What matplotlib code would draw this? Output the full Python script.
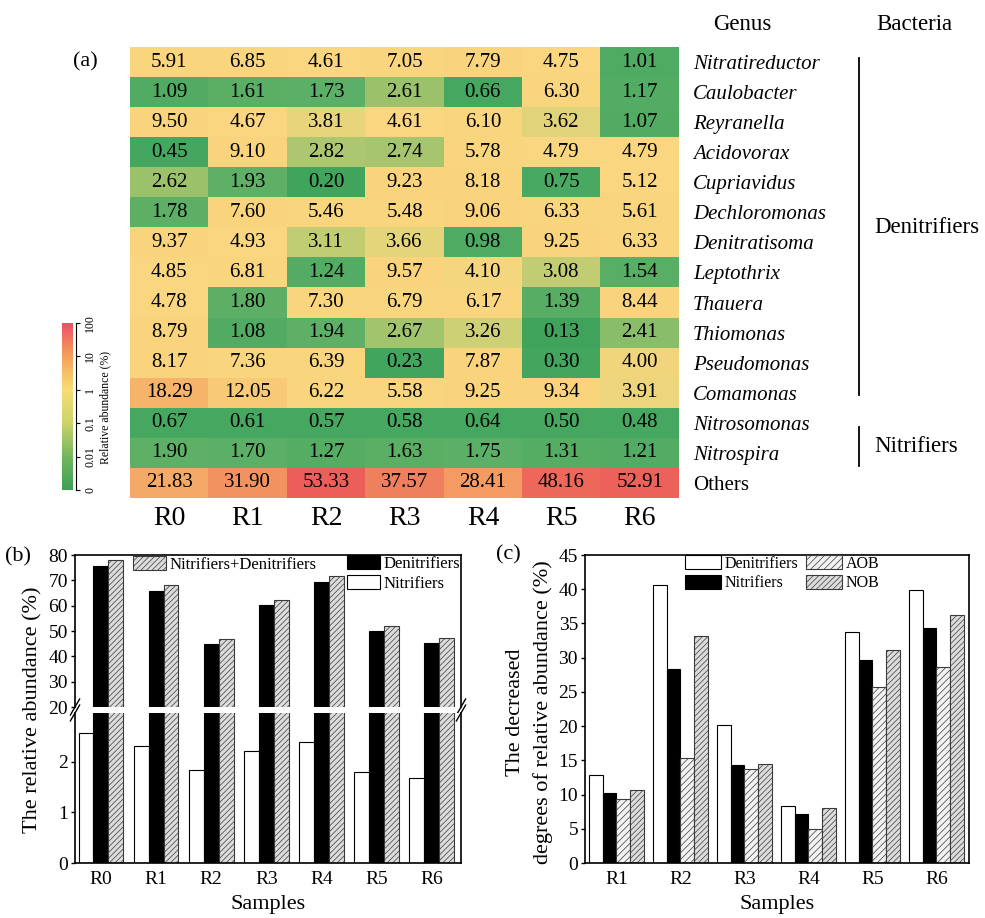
import numpy as np
import matplotlib
matplotlib.use('Agg')
import matplotlib.pyplot as plt
from matplotlib.colors import LinearSegmentedColormap, LogNorm

plt.rcParams['font.family'] = ['Liberation Serif', 'DejaVu Serif']
plt.rcParams['hatch.linewidth'] = 0.5

# ---------------- data ----------------
samples = ['R0', 'R1', 'R2', 'R3', 'R4', 'R5', 'R6']
genera = ['Nitratireductor', 'Caulobacter', 'Reyranella', 'Acidovorax', 'Cupriavidus',
          'Dechloromonas', 'Denitratisoma', 'Leptothrix', 'Thauera', 'Thiomonas',
          'Pseudomonas', 'Comamonas', 'Nitrosomonas', 'Nitrospira', 'Others']
nitratireductor = [5.91, 6.85, 4.61, 7.05, 7.79, 4.75, 1.01]
caulobacter     = [1.09, 1.61, 1.73, 2.61, 0.66, 6.30, 1.17]
reyranella      = [9.50, 4.67, 3.81, 4.61, 6.10, 3.62, 1.07]
acidovorax      = [0.45, 9.10, 2.82, 2.74, 5.78, 4.79, 4.79]
cupriavidus     = [2.62, 1.93, 0.20, 9.23, 8.18, 0.75, 5.12]
dechloromonas   = [1.78, 7.60, 5.46, 5.48, 9.06, 6.33, 5.61]
denitratisoma   = [9.37, 4.93, 3.11, 3.66, 0.98, 9.25, 6.33]
leptothrix      = [4.85, 6.81, 1.24, 9.57, 4.10, 3.08, 1.54]
thauera         = [4.78, 1.80, 7.30, 6.79, 6.17, 1.39, 8.44]
thiomonas       = [8.79, 1.08, 1.94, 2.67, 3.26, 0.13, 2.41]
pseudomonas     = [8.17, 7.36, 6.39, 0.23, 7.87, 0.30, 4.00]
comamonas       = [18.29, 12.05, 6.22, 5.58, 9.25, 9.34, 3.91]
nitrosomonas    = [0.67, 0.61, 0.57, 0.58, 0.64, 0.50, 0.48]
nitrospira      = [1.90, 1.70, 1.27, 1.63, 1.75, 1.31, 1.21]
others          = [21.83, 31.90, 53.33, 37.57, 28.41, 48.16, 52.91]
abund = np.array([nitratireductor, caulobacter, reyranella, acidovorax, cupriavidus,
                  dechloromonas, denitratisoma, leptothrix, thauera, thiomonas,
                  pseudomonas, comamonas, nitrosomonas, nitrospira, others])
groups = [('Denitrifiers', 0, 11), ('Nitrifiers', 12, 13)]
cbar_ticklabels = ['0', '0.01', '0.1', '1', '10', '100']

# panel b
nitrifiers_b = [2.57, 2.31, 1.84, 2.21, 2.39, 1.81, 1.69]
denitrifiers_b = [75.60, 65.79, 44.83, 60.22, 69.20, 50.03, 45.40]
nit_den_b = [78.17, 68.10, 46.67, 62.43, 71.59, 51.84, 47.09]

# panel c
samples_c = ['R1', 'R2', 'R3', 'R4', 'R5', 'R6']
dec_den = [12.9, 40.6, 20.2, 8.4, 33.8, 39.9]
dec_nit = [10.3, 28.4, 14.3, 7.2, 29.7, 34.3]
dec_aob = [9.4, 15.3, 13.8, 5.0, 25.7, 28.6]
dec_nob = [10.6, 33.2, 14.5, 8.0, 31.1, 36.3]

# ---------------- figure ----------------
W, H = 985, 918
fig = plt.figure(figsize=(W / 100, H / 100), dpi=100)


def rect(x0, y0, x1, y1):
    return [x0 / W, 1 - y1 / H, (x1 - x0) / W, (y1 - y0) / H]


# ---- heatmap (a) ----
cell_cmap = LinearSegmentedColormap.from_list('cells', [
    (0.00, '#3fa35c'), (0.30, '#47a861'), (0.47, '#60b167'), (0.51, '#9cc36c'),
    (0.55, '#d5d277'), (0.585, '#f9d780'), (0.72, '#f9d47c'), (0.81, '#f6b66a'),
    (0.89, '#f39a62'), (0.94, '#ef7a5e'), (1.00, '#ec5558')])
axh = fig.add_axes(rect(130, 47, 679, 498))
axh.imshow(abund, cmap=cell_cmap, norm=LogNorm(vmin=0.1, vmax=60), aspect='auto',
           interpolation='nearest')
for i in range(abund.shape[0]):
    for j in range(abund.shape[1]):
        axh.text(j, i, f'{abund[i, j]:.2f}', ha='center', va='center', fontsize=15, color='black')
axh.set_xlim(-0.5, 6.5)
axh.set_ylim(14.5, -0.5)
for s in axh.spines.values():
    s.set_visible(False)
axh.set_xticks(range(len(samples)), samples)
axh.tick_params(axis='x', length=0, labelsize=20, pad=6)
axh.yaxis.tick_right()
axh.set_yticks(range(len(genera)), genera)
axh.tick_params(axis='y', length=0, labelsize=15, pad=10)
for lab in axh.get_yticklabels():
    if lab.get_text() != 'Others':
        lab.set_fontstyle('italic')

ytr = axh.get_yaxis_transform()
axh.text(1.115, -1.25, 'Genus', transform=ytr, ha='center', va='center', fontsize=16.5)
axh.text(1.428, -1.25, 'Bacteria', transform=ytr, ha='center', va='center', fontsize=16.5)
axh.text(-0.082, 0.0, '(a)', transform=ytr, ha='center', va='center', fontsize=16)
offsets = {'Denitrifiers': (-0.15, 0.06), 'Nitrifiers': (0.15, 0.42)}
for name, r0, r1 in groups:
    o0, o1 = offsets[name]
    axh.plot([1.328, 1.328], [r0 + o0, r1 + o1], transform=ytr, color='black', lw=1.3,
             clip_on=False)
    axh.text(1.356, (r0 + r1) / 2 + (0.0 if name == 'Denitrifiers' else 0.3), name,
             transform=ytr, ha='left', va='center', fontsize=16.5)

# ---- colorbar ----
cbar_cmap = LinearSegmentedColormap.from_list('cbar', [
    (0.0, '#3e9f56'), (0.2, '#72b75e'), (0.4, '#cdd36a'), (0.6, '#f8dd76'),
    (0.8, '#f5a25a'), (1.0, '#ee5066')])
axc = fig.add_axes(rect(62, 323, 73, 490))
grad = np.linspace(0, 1, 256).reshape(-1, 1)
axc.imshow(grad, cmap=cbar_cmap, aspect='auto', origin='lower',
           extent=[0, 1, 0, len(cbar_ticklabels) - 1])
axc.set_xlim(0, 1)
axc.set_ylim(0, len(cbar_ticklabels) - 1)
for k in ['left', 'top', 'bottom']:
    axc.spines[k].set_visible(False)
axc.spines['right'].set_position(('outward', 2))
axc.spines['right'].set_linewidth(0.8)
axc.set_xticks([])
axc.yaxis.tick_right()
axc.set_yticks(range(len(cbar_ticklabels)))
axc.set_yticklabels(cbar_ticklabels, rotation=90, va='center', ha='left')
axc.tick_params(axis='y', direction='out', length=3, width=0.8, labelsize=8.5, pad=3)
fig.text(105 / W, 1 - 408 / H, 'Relative abundance (%)', rotation=90, ha='center',
         va='center', fontsize=8.5)

# ---- panel (b) ----
xb = np.arange(len(samples))
wb = 0.27
hatch_kw = dict(facecolor='#dcdcdc', edgecolor='#3a3a3a', hatch='//////', linewidth=0.8)
axbu = fig.add_axes(rect(75, 555, 461, 707))
axbl = fig.add_axes(rect(75, 713, 461, 863))
handles = {}
for ax in (axbu, axbl):
    h1 = ax.bar(xb - wb, nitrifiers_b, wb, facecolor='white', edgecolor='black', linewidth=0.8)
    h2 = ax.bar(xb, denitrifiers_b, wb, facecolor='black', edgecolor='black', linewidth=0.8)
    h3 = ax.bar(xb + wb, nit_den_b, wb, **hatch_kw)
    handles = {'Nitrifiers': h1, 'Denitrifiers': h2, 'Nitrifiers+Denitrifiers': h3}
    ax.set_xlim(-0.47, 6.53)
    for s in ax.spines.values():
        s.set_linewidth(1.2)
    ax.tick_params(axis='y', direction='out', length=3, width=1, labelsize=14, pad=2)
axbu.set_ylim(20, 80)
axbu.set_yticks(range(20, 81, 10))
axbu.spines['bottom'].set_visible(False)
axbu.set_xticks([])
axbl.set_ylim(0, 2.97)
axbl.set_yticks([0, 1, 2])
axbl.spines['top'].set_visible(False)
axbl.set_xticks(xb, samples)
axbl.tick_params(axis='x', length=0, labelsize=14, pad=6)
# break marks
d = 0.012
for ax, yb in ((axbu, 0.0), (axbl, 1.0)):
    k = 2.2
    for xs in (0.0, 1.0):
        ax.plot([xs - d, xs + d], [yb - k * d * 2, yb + k * d * 2], transform=ax.transAxes,
                color='black', lw=1.0, clip_on=False)

fig.legend([handles['Nitrifiers+Denitrifiers']], ['Nitrifiers+Denitrifiers'],
           loc='upper left', bbox_to_anchor=(133 / W, 1 - 556 / H), frameon=False,
           borderpad=0, borderaxespad=0, handlelength=2.0, handleheight=0.9,
           handletextpad=0.2, fontsize=12)
fig.legend([handles['Denitrifiers'], handles['Nitrifiers']], ['Denitrifiers', 'Nitrifiers'],
           loc='upper left', bbox_to_anchor=(347 / W, 1 - 555 / H), frameon=False,
           borderpad=0, borderaxespad=0, handlelength=2.0, handleheight=0.9,
           handletextpad=0.2, labelspacing=0.2, fontsize=12)
fig.text(33 / W, 1 - 710 / H, 'The relative abundance (%)', rotation=90, ha='center',
         va='center', fontsize=16)
fig.text(268 / W, 1 - 905 / H, 'Samples', ha='center', va='center', fontsize=16)
fig.text(18 / W, 1 - 557 / H, '(b)', ha='center', va='center', fontsize=16)

# ---- panel (c) ----
xc = np.arange(len(samples_c))
wc = 0.215
axcc = fig.add_axes(rect(585, 555, 969, 863))
c1 = axcc.bar(xc - 1.5 * wc, dec_den, wc, facecolor='white', edgecolor='black', linewidth=0.8)
c2 = axcc.bar(xc - 0.5 * wc, dec_nit, wc, facecolor='black', edgecolor='black', linewidth=0.8)
c3 = axcc.bar(xc + 0.5 * wc, dec_aob, wc, facecolor='#f2f2f2', edgecolor='#3a3a3a',
              hatch='/////', linewidth=0.8)
c4 = axcc.bar(xc + 1.5 * wc, dec_nob, wc, **hatch_kw)
axcc.set_xlim(-0.49, 5.51)
axcc.set_ylim(0, 45)
axcc.set_yticks(range(0, 46, 5))
axcc.set_xticks(xc, samples_c)
for s in axcc.spines.values():
    s.set_linewidth(1.2)
axcc.tick_params(axis='y', direction='out', length=3, width=1, labelsize=14, pad=2)
axcc.tick_params(axis='x', length=0, labelsize=14, pad=6)
axcc.legend([c1, c2, c3, c4], ['Denitrifiers', 'Nitrifiers', 'AOB', 'NOB'], ncol=2,
            loc='upper left', bbox_to_anchor=(685 / W, 1 - 555 / H),
            bbox_transform=fig.transFigure, frameon=False, borderpad=0, borderaxespad=0,
            handlelength=2.25, handleheight=1.0, handletextpad=0.25, labelspacing=0.2,
            columnspacing=0.45, fontsize=11.5)
fig.text(516 / W, 1 - 712 / H, 'The decreased', rotation=90, ha='center', va='center',
         fontsize=16)
fig.text(543 / W, 1 - 712 / H, 'degrees of relative abundance (%)', rotation=90,
         ha='center', va='center', fontsize=16)
fig.text(508 / W, 1 - 555 / H, '(c)', ha='center', va='center', fontsize=16)
fig.text(777 / W, 1 - 905 / H, 'Samples', ha='center', va='center', fontsize=16)

fig.savefig('out.png', dpi=100)
